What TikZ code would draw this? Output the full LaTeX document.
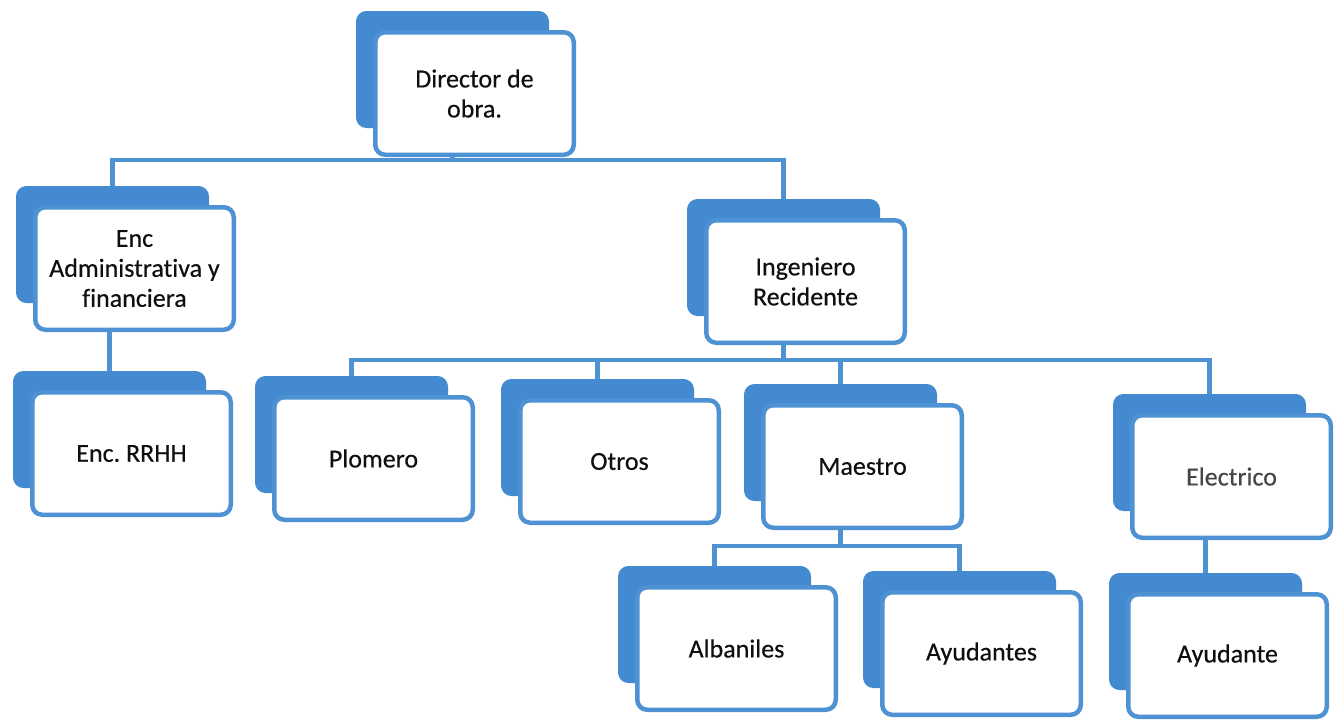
\documentclass[tikz,border=0pt]{standalone}
\usepackage{fontspec}
\setmainfont{Carlito}[Ligatures=NoCommon, FakeBold=0.4]
\definecolor{backblue}{RGB}{68,138,208}
\definecolor{lineblue}{RGB}{78,146,212}
\definecolor{txt}{RGB}{15,15,15}
\tikzset{
  backbox/.style={fill=backblue, draw=backblue, line width=1pt, rounded corners=10pt,
    minimum width=192pt, minimum height=116pt, inner sep=0pt},
  frontbox/.style={fill=white, draw=lineblue, line width=4.5pt, rounded corners=10pt,
    minimum width=198.5pt, minimum height=122.5pt, inner sep=2pt, align=center,
    text=txt, font=\fontsize{26}{30}\selectfont},
  conn/.style={draw=lineblue, line width=4.5pt},
}
\newcommand\obox[4]{%
  \node[backbox] (#1b) at ({#2+79.5},{#3+39.5}) {};
  \node[frontbox] (#1) at ({#2+101.5},{#3+63.5}) {#4};}
\begin{document}
\begin{tikzpicture}[x=1pt,y=-1pt]
\fill[white] (0,0) rectangle (1338,723);
\useasboundingbox (0,0) rectangle (1338,723);
\obox{dir}{373}{30}{Director de\\obra.}
\obox{adm}{33}{205}{Enc\\Administrativa y\\financiera}
\obox{rrh}{30}{390}{Enc.\ RRHH}
\obox{ing}{704}{218}{Ingeniero\\Recidente}
\obox{plo}{272}{395}{Plomero}
\obox{otr}{518}{398}{Otros}
\obox{mae}{761}{403}{Maestro}
\obox{ele}{1130}{413}{\textcolor[RGB]{70,70,70}{Electrico}}
\obox{alb}{635}{585}{Albaniles}
\obox{ays}{880}{590}{Ayudantes}
\obox{ayu}{1126}{592}{Ayudante}
% connectors
\coordinate (bus1) at (dirb.center |- 0,160);
\coordinate (bus2) at (ingb.center |- 0,360);
\coordinate (bus3) at (maeb.center |- 0,546);
\draw[conn] (dirb.center |- dir.south) -- (bus1);
\draw[conn] (admb.north) |- (bus1) -| (ingb.north);
\draw[conn] (rrhb.center |- adm.south) -- (rrhb.north);
\draw[conn] (ingb.center |- ing.south) -- (bus2);
\draw[conn] (plob.north) |- (bus2) -| (eleb.north);
\draw[conn] (otrb.north) -- (otrb.north |- bus2);
\draw[conn] (maeb.north) -- (maeb.north |- bus2);
\draw[conn] (maeb.center |- mae.south) -- (bus3);
\draw[conn] (albb.north) |- (bus3) -| (aysb.north);
\draw[conn] (ayub.center |- ele.south) -- (ayub.north);
\end{tikzpicture}
\end{document}
